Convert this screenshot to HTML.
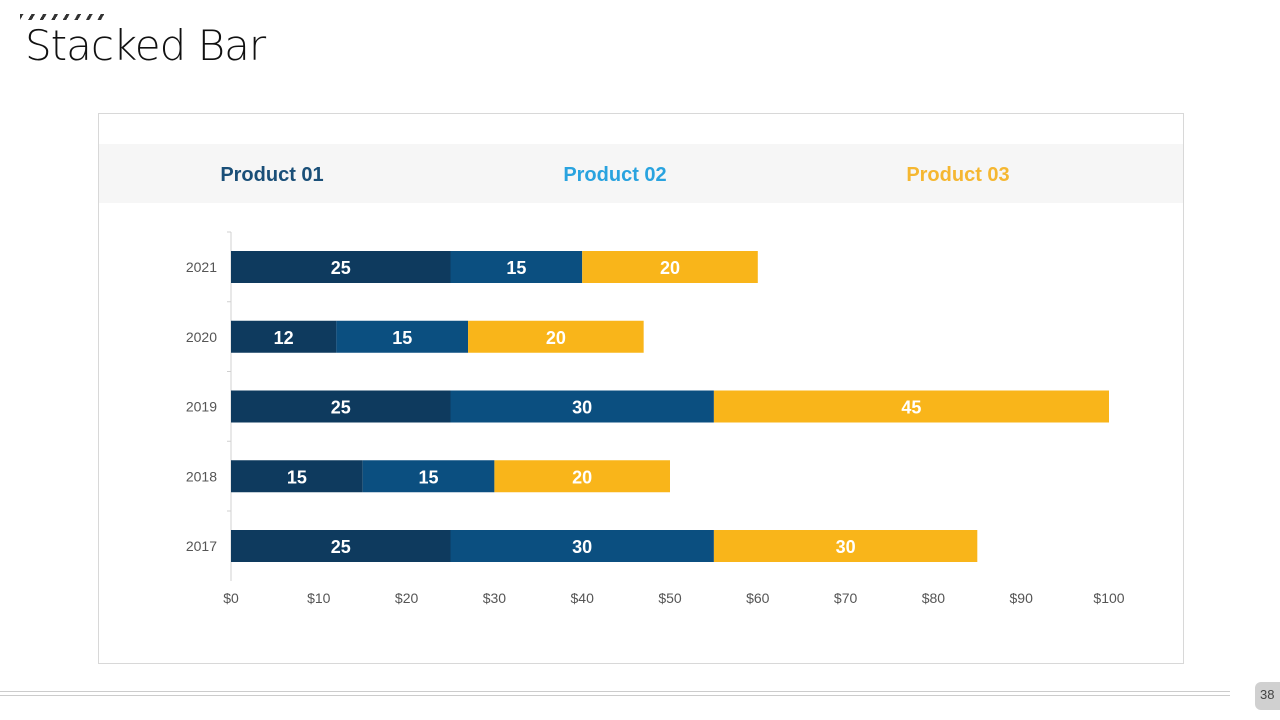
<!DOCTYPE html>
<html><head><meta charset="utf-8"><style>
body{margin:0;width:1280px;height:720px;background:#fff;position:relative;overflow:hidden;font-family:"Liberation Sans",sans-serif}
.abs{position:absolute}
</style></head><body>
<div class="abs" style="left:20px;top:14px;width:88px;height:6px;background:repeating-linear-gradient(120deg,#333 0 3px,transparent 3px 10px)"></div>
<div class="abs" style="left:25px;top:21px;font-size:42px;color:#111;font-family:'DejaVu Sans',sans-serif;font-weight:200;letter-spacing:-1px">Stacked Bar</div>
<div class="abs" style="left:98px;top:113px;width:1084px;height:549px;border:1px solid #d8d8d8"></div>
<div class="abs" style="left:99px;top:144px;width:1084px;height:59px;background:#f6f6f6"></div>
<div class="abs" style="left:172px;top:164px;width:200px;text-align:center;font-weight:bold;font-size:20px;color:#1a4f78">Product 01</div>
<div class="abs" style="left:515px;top:164px;width:200px;text-align:center;font-weight:bold;font-size:20px;color:#29a3df">Product 02</div>
<div class="abs" style="left:858px;top:164px;width:200px;text-align:center;font-weight:bold;font-size:20px;color:#f5b731">Product 03</div>
<svg class="abs" style="left:0;top:0" width="1280" height="720" id="chart"></svg>
<div class="abs" style="left:0;top:691px;width:1230px;height:3px;border-top:1px solid #ccc;border-bottom:1px solid #ccc"></div>
<div class="abs" style="left:1255px;top:682px;width:30px;height:28px;background:#d0d0d0;border-radius:6px 0 0 6px;font-size:13px;color:#444;line-height:26px;padding-left:5px">38</div>
<script>
const years=["2017","2018","2019","2020","2021"];
const p1=[25,15,25,12,25];
const p2=[30,15,30,15,15];
const p3=[30,20,45,20,20];
const ticks=[0,10,20,30,40,50,60,70,80,90,100];
const colors=["#0e3a5e","#0b4f80","#f9b51a"];
const ns="http://www.w3.org/2000/svg";
const svg=document.getElementById("chart");
const x=v=>231+v*8.78;
const yc=i=>546-i*69.75;
function mk(t,a){const e=document.createElementNS(ns,t);for(const k in a)e.setAttribute(k,a[k]);svg.appendChild(e);return e;}
const ax=mk("line",{x1:231,y1:232,x2:231,y2:581,stroke:"#d0d0d0"});


ticks.forEach(t=>{const e=mk("text",{x:x(t),y:603,"text-anchor":"middle","font-size":14,fill:"#555","font-family":"Liberation Sans"});e.textContent="$"+t;

});
years.forEach((yr,i)=>{
const l=mk("text",{x:217,y:yc(i)+5,"text-anchor":"end","font-size":14,fill:"#555","font-family":"Liberation Sans"});l.textContent=yr;


const tk=mk("line",{x1:227,x2:231,y1:yc(i)-35,y2:yc(i)-35,stroke:"#d0d0d0"});


let acc=0;[p1,p2,p3].forEach((s,j)=>{const v=s[i];
const r=mk("rect",{x:x(acc),y:yc(i)-16,width:x(acc+v)-x(acc),height:32,fill:colors[j]});


const t=mk("text",{x:(x(acc)+x(acc+v))/2,y:yc(i)+7,"text-anchor":"middle","font-size":18,"font-weight":"bold",fill:"#fff","font-family":"Liberation Sans"});t.textContent=v;


acc+=v;});
});
</script>
</body></html>
